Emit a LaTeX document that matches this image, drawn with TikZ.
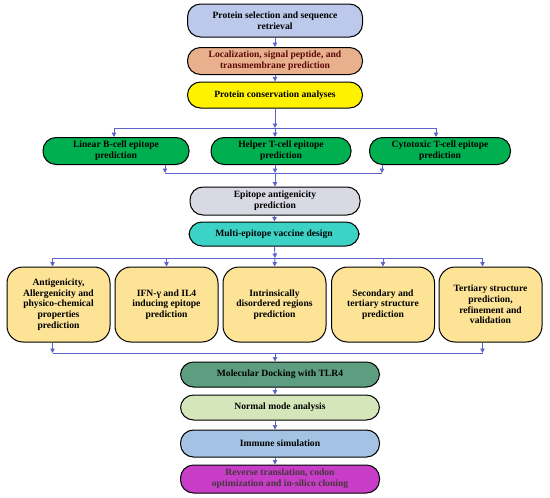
\documentclass[tikz,border=0pt]{standalone}
\usepackage{fontspec}
\setmainfont{Liberation Serif}
\usetikzlibrary{arrows.meta}
\definecolor{selblue}{HTML}{BCC9EB}
\definecolor{locorange}{HTML}{E8B08C}
\definecolor{locred}{HTML}{5C0A0A}
\definecolor{epigreen}{HTML}{00B050}
\definecolor{antigrey}{HTML}{D9D9E4}
\definecolor{designcyan}{HTML}{3CD3C6}
\definecolor{predyellow}{HTML}{FCE396}
\definecolor{dockgreen}{HTML}{5E9E80}
\definecolor{nmagreen}{HTML}{D5E7BA}
\definecolor{immblue}{HTML}{A4C2E4}
\definecolor{clonepink}{HTML}{C83DC8}
\definecolor{arrowblue}{HTML}{5E63C8}

\begin{document}
\begin{tikzpicture}[x=1pt,y=-1pt,
  box/.style={draw=black,line width=1pt,align=center,inner sep=2pt,
    font=\fontsize{9.6}{10.8}\selectfont\bfseries},
  pill/.style={box,rounded corners=13pt,minimum height=27pt},
  column/.style={pill,minimum width=175pt},
  lower/.style={pill,minimum width=199pt},
  epitope/.style={pill,fill=epigreen,minimum height=27pt},
  predbox/.style={box,fill=predyellow,rounded corners=16pt,
    minimum width=103pt,minimum height=75pt},
  flow/.style={-{Triangle[length=4.5pt,width=4.5pt]},draw=arrowblue,line width=0.9pt},
  link/.style={draw=arrowblue,line width=0.9pt}]
\useasboundingbox (0,0) rectangle (550,498);
\node[column,fill=selblue,minimum height=33pt] (select) at (275,20.5)
  {Protein selection and sequence\\retrieval};
\node[column,fill=locorange,text=locred] (locate) at (275,61)
  {Localization, signal peptide, and\\transmembrane prediction};
\node[column,fill=yellow,minimum height=26pt] (conserv) at (275,95)
  {Protein conservation analyses};
\node[epitope,minimum width=146pt] (linb) at (116,151)
  {Linear B-cell epitope\\prediction};
\node[epitope,minimum width=140pt] (helper) at (281,151)
  {Helper T-cell epitope\\prediction};
\node[epitope,minimum width=141pt] (cyto) at (440,151)
  {Cytotoxic T-cell epitope\\prediction};
\node[pill,fill=antigrey,minimum width=170pt,minimum height=28pt] (antigen) at (275,201)
  {Epitope antigenicity\\prediction};
\node[pill,fill=designcyan,minimum width=170pt,minimum height=24pt] (design) at (274,234)
  {Multi-epitope vaccine design};
\node[predbox] (physchem) at (58.5,304.5)
  {Antigenicity,\\Allergenicity and\\physico-chemical\\properties\\prediction};
\node[predbox] (ifn) at (166.5,304.5)
  {IFN-γ and IL4\\inducing epitope\\prediction};
\node[predbox] (disorder) at (274.5,304.5)
  {Intrinsically\\disordered regions\\prediction};
\node[predbox] (secter) at (383,304.5)
  {Secondary and\\tertiary structure\\prediction};
\node[predbox] (refine) at (490.5,304.5)
  {Tertiary structure\\prediction,\\refinement and\\validation};
\node[lower,fill=dockgreen,minimum height=25pt] (docking) at (280,374.5)
  {Molecular Docking with TLR4};
\node[lower,fill=nmagreen,minimum height=25pt] (normal) at (280,407.5)
  {Normal mode analysis};
\node[lower,fill=immblue] (immune) at (280,443.5)
  {Immune simulation};
\node[lower,fill=clonepink,text=black!85!magenta,minimum height=28pt] (cloning) at (280,479)
  {Reverse translation, codon\\optimization and in-silico cloning};
% junctions of the branching lines
\coordinate (split1) at (275,128);
\coordinate (merge1) at (275,173);
\coordinate (split2) at (275,258);
\coordinate (merge2) at (275,353);
\draw[flow] (select) -- (locate);
\draw[flow] (locate) -- (conserv);
\draw[flow] (conserv) -- (split1);
\draw[flow] (split1) -| ([xshift=-2pt]linb.north);
\draw[flow] (split1) -| ([xshift=-4pt]cyto.north);
\draw[flow] (split1) -- (split1 |- helper.north);
\draw[flow] ([xshift=49pt]linb.south) -- ([xshift=49pt]linb.south |- merge1);
\draw[flow] ([xshift=-58pt]cyto.south) -- ([xshift=-58pt]cyto.south |- merge1);
\draw[link] ([xshift=49pt]linb.south |- merge1) -- ([xshift=-58pt]cyto.south |- merge1);
\draw[flow] (merge1 |- helper.south) -- (merge1);
\draw[flow] (merge1) -- (antigen);
\draw[flow] (antigen) -- (design);
\draw[flow] (design) -- (split2);
\draw[flow] (split2) -| ([xshift=-6pt]physchem.north);
\draw[flow] (split2) -| (ifn.north);
\draw[flow] (split2) -- (disorder.north);
\draw[flow] (split2) -| (secter.north);
\draw[flow] (split2) -| ([xshift=-8pt]refine.north);
\draw[flow] ([xshift=-6pt]physchem.south) -- ([xshift=-6pt]physchem.south |- merge2);
\draw[flow] ([xshift=-8pt]refine.south) -- ([xshift=-8pt]refine.south |- merge2);
\draw[link] ([xshift=-6pt]physchem.south |- merge2) -- ([xshift=-8pt]refine.south |- merge2);
\draw[flow] (merge2) -- (merge2 |- docking.north);
\draw[flow] (docking.south -| merge2) -- (normal.north -| merge2);
\draw[flow] (normal.south -| merge2) -- (immune.north -| merge2);
\draw[flow] (immune.south -| merge2) -- (cloning.north -| merge2);
\end{tikzpicture}
\end{document}
